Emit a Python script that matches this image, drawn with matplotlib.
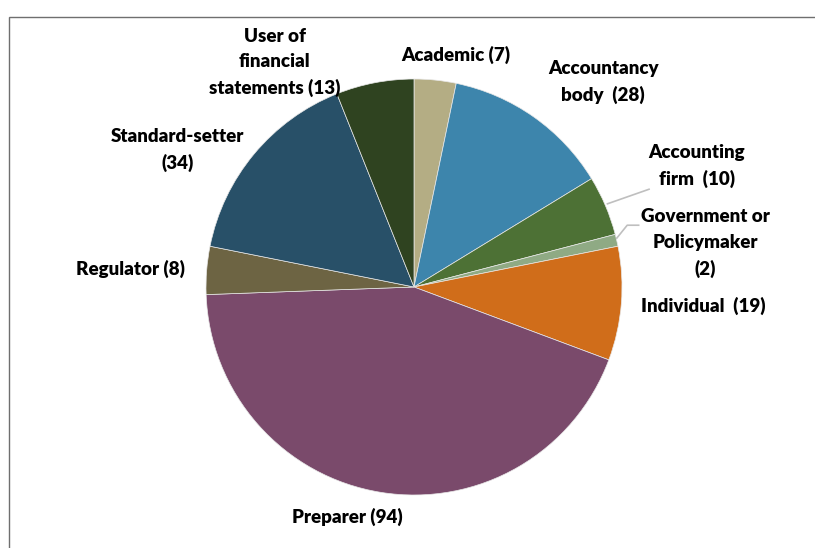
import numpy as np
import matplotlib.pyplot as plt
from matplotlib.patches import Rectangle

# survey respondents by category (clockwise from top)
labels = ['Academic (7)', 'Accountancy\nbody  (28)', 'Accounting\nfirm  (10)',
          'Government or\nPolicymaker\n(2)', 'Individual  (19)', 'Preparer (94)',
          'Regulator (8)', 'Standard-setter\n(34)', 'User of\nfinancial\nstatements (13)']
counts = [7, 28, 10, 2, 19, 94, 8, 34, 13]
colors = ['#B4AD84', '#3D85AC', '#4D7135', '#8FAA84', '#D06D1A', '#7A4A6B',
          '#6D6443', '#285068', '#2F4320']
# label placement in units of pie radius (x, y)
label_pos = [(0.20, 1.115), (0.91, 0.985), (1.36, 0.58), (1.40, 0.21), (1.39, -0.09),
             (-0.32, -1.106), (-1.365, 0.085), (-1.135, 0.66), (-0.67, 1.08)]

W, H = 815, 548
cx, cy, R = 414, 287, 208
fig = plt.figure(figsize=(W / 100, H / 100), dpi=100)
fig.patches.append(Rectangle((9 / W, -0.1), 1.2, (H - 17) / H + 0.1, transform=fig.transFigure,
                             fill=False, edgecolor='#6f6f6f', linewidth=1.0))
ax = fig.add_axes([(cx - R) / W, (H - cy - R) / H, 2 * R / W, 2 * R / H])
wedges, _ = ax.pie(counts, colors=colors, startangle=90, counterclock=False,
                   wedgeprops=dict(linewidth=0.5, edgecolor='#e8e8e8'))
ax.set_xlim(-1, 1)
ax.set_ylim(-1, 1)
ax.set_aspect('equal')
ax.axis('off')

for lab, (x, y) in zip(labels, label_pos):
    ax.text(x, y, lab, ha='center', va='center', fontsize=13.5, fontweight='heavy',
            family=['Lato', 'DejaVu Sans'], color='#000000', linespacing=1.6, clip_on=False)

# leader lines for small slices
for i, pts in [(2, [(1.13, 0.47), (0.93, 0.40)]),
               (3, [(1.08, 0.297), (1.025, 0.297), (0.975, 0.235)])]:
    xs, ys = zip(*pts)
    ax.plot(xs, ys, color='#bfbfbf', linewidth=1.2, clip_on=False)

plt.savefig('out.png', dpi=100)
